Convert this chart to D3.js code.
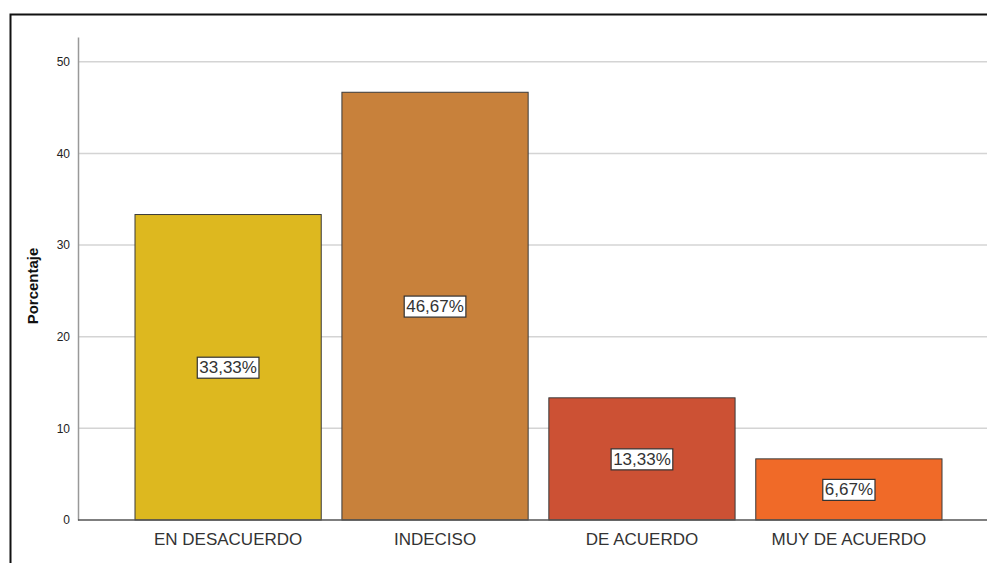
<!DOCTYPE html>
<html>
<head>
<meta charset="utf-8">
<script src="https://cdn.jsdelivr.net/npm/d3@7"></script>
<style>
  body { margin: 0; background: #fff; }
  svg { display: block; font-family: "Liberation Sans", Arial, sans-serif; }
</style>
</head>
<body>
<div id="chart"></div>
<script>
const categories = ["EN DESACUERDO", "INDECISO", "DE ACUERDO", "MUY DE ACUERDO"];
const values = [33.33, 46.67, 13.33, 6.67];
const labels = ["33,33%", "46,67%", "13,33%", "6,67%"];
const colors = ["#DDB81F", "#C8813B", "#CC5134", "#F06A28"];
const yTicks = [0, 10, 20, 30, 40, 50];

const width = 987, height = 563;

const svg = d3.select("#chart").append("svg")
  .attr("width", width)
  .attr("height", height);

// cadre
svg.append("rect")
  .attr("x", 10.5).attr("y", 14.5)
  .attr("width", 1000).attr("height", 600)
  .attr("fill", "none")
  .attr("stroke", "#111")
  .attr("stroke-width", 2);

const x = d3.scaleBand()
  .domain(categories)
  .range([135, 942])
  .paddingInner(0.1)
  .paddingOuter(0);

const y = d3.scaleLinear()
  .domain([0, 52.7])
  .range([520, 37]);

// grille
svg.append("g")
  .selectAll("line")
  .data(yTicks.filter(d => d > 0))
  .enter()
  .append("line")
  .attr("x1", 78).attr("x2", width)
  .attr("y1", d => y(d)).attr("y2", d => y(d))
  .attr("stroke", "#d4d4d4")
  .attr("stroke-width", 1.5);

// axe Y
const yAxis = svg.append("g")
  .attr("transform", "translate(78,0)")
  .call(d3.axisLeft(y).tickValues(yTicks).tickSize(0).tickPadding(8));
yAxis.select(".domain").attr("stroke", "#999").attr("stroke-width", 1.5);
yAxis.selectAll("text")
  .style("font-size", "12px")
  .attr("fill", "#222");

svg.append("text")
  .attr("transform", "rotate(-90)")
  .attr("x", -286)
  .attr("y", 38)
  .attr("text-anchor", "middle")
  .style("font-size", "15px")
  .style("font-weight", "bold")
  .attr("fill", "#111")
  .text("Porcentaje");

// barres
svg.append("g")
  .selectAll("rect")
  .data(categories)
  .enter()
  .append("rect")
  .attr("x", d => x(d))
  .attr("y", (d, i) => y(values[i]))
  .attr("width", x.bandwidth())
  .attr("height", (d, i) => y(0) - y(values[i]))
  .attr("fill", (d, i) => colors[i])
  .attr("stroke", "#3a3a3a")
  .attr("stroke-width", 1);

// axe X
const xAxis = svg.append("g")
  .attr("transform", `translate(0,${y(0)})`)
  .call(d3.axisBottom(x).tickSize(0).tickPadding(13));
xAxis.select(".domain")
  .attr("d", `M78,0H${width}`)
  .attr("stroke", "#555")
  .attr("stroke-width", 1.5);
xAxis.selectAll("text")
  .style("font-size", "17px")
  .attr("fill", "#333");

// étiquettes
const lab = svg.append("g")
  .selectAll("g")
  .data(categories)
  .enter()
  .append("g")
  .attr("transform", (d, i) =>
    `translate(${x(d) + x.bandwidth() / 2},${(y(values[i]) + y(0)) / 2})`);

lab.append("text")
  .attr("text-anchor", "middle")
  .attr("dy", "0.35em")
  .style("font-size", "17px")
  .attr("fill", "#333")
  .text((d, i) => labels[i])
  .each(function() {
    const b = this.getBBox();
    d3.select(this.parentNode).insert("rect", "text")
      .attr("x", b.x - 2)
      .attr("y", b.y - 1)
      .attr("width", b.width + 4)
      .attr("height", b.height + 2)
      .attr("fill", "#fff")
      .attr("stroke", "#333")
      .attr("stroke-width", 1.2);
  });
</script>
</body>
</html>
